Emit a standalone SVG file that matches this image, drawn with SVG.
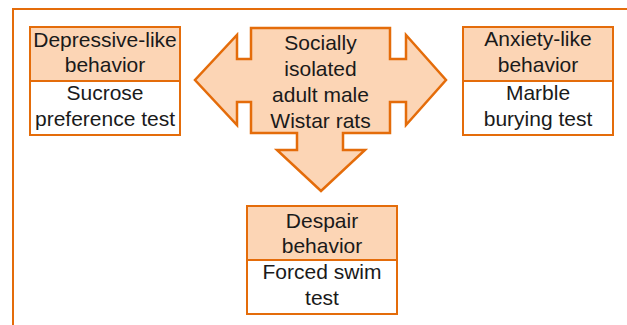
<svg xmlns="http://www.w3.org/2000/svg" width="627" height="325" viewBox="0 0 627 325">
<style>
.frame{fill:none;stroke:#E46C0A;stroke-width:2}
.hd{fill:#FCD5B5;stroke:#E46C0A;stroke-width:2}
.bd{fill:#FFFFFF;stroke:#E46C0A;stroke-width:2}
.arrow{fill:#FCD5B5;stroke:#E46C0A;stroke-width:2.5;stroke-linejoin:miter}
text{font-family:"Liberation Sans",Arial,sans-serif;font-size:21px;fill:#1a1a1a;text-anchor:middle}
</style>
<rect class="frame" x="13" y="9" width="630" height="330"/>
<g id="connectors">
<path class="arrow" d="M251,28 H390 V59 H406 V35 L446,80 L406,125 V102 H390 V133 H343 V150 H365 L321,191 L277,150 H297 V133 H251 V102 H237 V125 L195,80 L237,35 V59 H251 Z"/>
</g>
<g id="center">
<text x="320.5" y="50">Socially</text>
<text x="320.5" y="76">isolated</text>
<text x="320.5" y="102">adult male</text>
<text x="320.5" y="128">Wistar rats</text>
</g>
<g id="depressive">
<rect class="hd" x="30" y="27" width="150" height="54"/>
<rect class="bd" x="30" y="81" width="150" height="54"/>
<text x="105" y="47">Depressive-like</text>
<text x="105" y="72">behavior</text>
<text x="105" y="100">Sucrose</text>
<text x="105" y="126">preference test</text>
</g>
<g id="anxiety">
<rect class="hd" x="463" y="27" width="150" height="54"/>
<rect class="bd" x="463" y="81" width="150" height="54"/>
<text x="538" y="46">Anxiety-like</text>
<text x="538" y="72">behavior</text>
<text x="538" y="100">Marble</text>
<text x="538" y="126">burying test</text>
</g>
<g id="despair">
<rect class="hd" x="247" y="206" width="150" height="54"/>
<rect class="bd" x="247" y="260" width="150" height="54"/>
<text x="322" y="228">Despair</text>
<text x="322" y="253">behavior</text>
<text x="322" y="279">Forced swim</text>
<text x="322" y="305">test</text>
</g>
</svg>
